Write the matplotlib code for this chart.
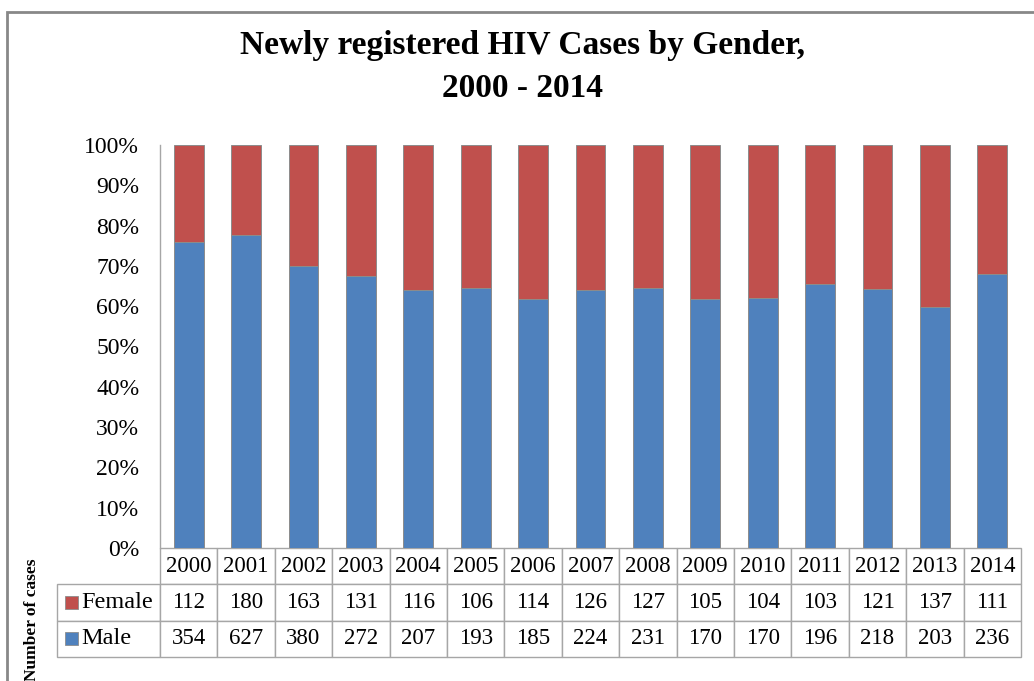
import matplotlib
matplotlib.use("Agg")
import matplotlib.pyplot as plt
from matplotlib.patches import Rectangle
import numpy as np

years = ["2000", "2001", "2002", "2003", "2004", "2005", "2006", "2007",
         "2008", "2009", "2010", "2011", "2012", "2013", "2014"]
female = [112, 180, 163, 131, 116, 106, 114, 126, 127, 105, 104, 103, 121, 137, 111]
male = [354, 627, 380, 272, 207, 193, 185, 224, 231, 170, 170, 196, 218, 203, 236]
yticks = [0, 10, 20, 30, 40, 50, 60, 70, 80, 90, 100]
series_names = ["Female", "Male"]

BLUE = "#4F81BD"
RED = "#C0504D"
GRID = "#a6a6a6"
SERIF = ["Liberation Serif", "DejaVu Serif"]
plt.rcParams["font.family"] = SERIF

W, H = 1034, 681
fig = plt.figure(figsize=(W / 100, H / 100), dpi=100)

ax_l, ax_r, ax_t, ax_b = 160, 1021, 145, 548
ax = fig.add_axes([ax_l / W, 1 - ax_b / H, (ax_r - ax_l) / W, (ax_b - ax_t) / H])

x = np.arange(len(years))
tot = np.array(male) + np.array(female)
male_pct = np.array(male) / tot * 100
female_pct = np.array(female) / tot * 100
ax.bar(x, male_pct, width=0.52, color=BLUE, edgecolor="#8c8c8c", linewidth=0.7)
ax.bar(x, female_pct, bottom=male_pct, width=0.52, color=RED, edgecolor="#8c8c8c", linewidth=0.7)

ax.set_xlim(-0.5, len(years) - 0.5)
ax.set_ylim(0, 100)
ax.set_yticks(yticks)
ax.set_yticklabels([f"{v}%" for v in yticks], fontsize=17)
ax.tick_params(axis="y", length=0, pad=15)
ax.set_xticks([])
for s in ["top", "right", "bottom"]:
    ax.spines[s].set_visible(False)
ax.spines["left"].set_color(GRID)
ax.spines["left"].set_linewidth(1.0)

# data table
tbl_l, tbl_b = 57, 657
label_w = ax_l - tbl_l
col_w = (ax_r - ax_l) / len(years)
cell_text = [[""] + years,
             [""] + [str(v) for v in female],
             [""] + [str(v) for v in male]]
bbox = [(tbl_l - ax_l) / (ax_r - ax_l), (ax_b - tbl_b) / (ax_b - ax_t),
        (ax_r - tbl_l) / (ax_r - ax_l), (tbl_b - ax_b) / (ax_b - ax_t)]
table = ax.table(cellText=cell_text, cellLoc="center", bbox=bbox)
table.auto_set_font_size(False)
for (r, c), cell in table.get_celld().items():
    cell.set_edgecolor(GRID)
    cell.set_linewidth(1.0)
    cell.set_width(label_w if c == 0 else col_w)
    cell.get_text().set_fontsize(16.5)
    cell.get_text().set_fontfamily(SERIF)
    if r == 0 and c == 0:
        cell.visible_edges = ""

# row labels with legend keys
row_h = (tbl_b - ax_b) / 3
for i, (name, col) in enumerate(zip(series_names, [RED, BLUE])):
    yc = ax_b + row_h * (i + 1) + row_h / 2
    sq = 13
    fig.patches.append(Rectangle(((tbl_l + 8) / W, 1 - (yc + sq / 2) / H), sq / W, sq / H,
                                 transform=fig.transFigure, facecolor=col,
                                 edgecolor="#8c8c8c", linewidth=0.6))
    fig.text((tbl_l + 24) / W, 1 - yc / H, name, ha="left", va="center", fontsize=17.5)

fig.text(523 / W, 1 - 67 / H, "Newly registered HIV Cases by Gender,\n2000 - 2014",
         ha="center", va="center", fontsize=24, fontweight="bold", linespacing=1.5)
fig.text(32 / W, 1 - 620 / H, "Number of cases", rotation=90, ha="center", va="center",
         fontsize=12.5, fontweight="bold")

# chart frame
fig.patches.append(Rectangle((7 / W, -0.1), 1.2, 1 - 12 / H + 0.1, transform=fig.transFigure,
                             fill=False, edgecolor="#888888", linewidth=2))

fig.savefig("out.png", dpi=100)
